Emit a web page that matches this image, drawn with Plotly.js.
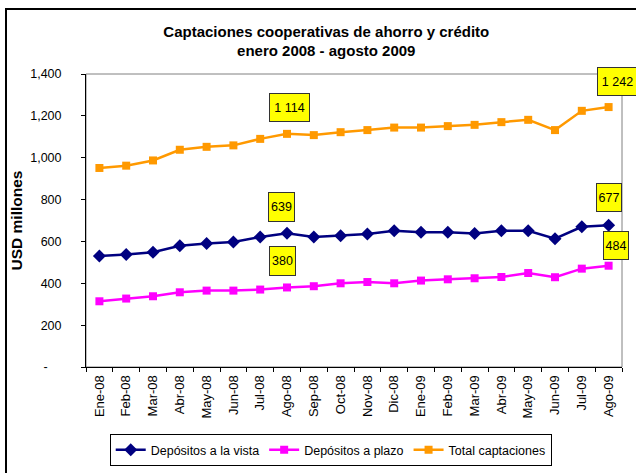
<!DOCTYPE html>
<html>
<head>
<meta charset="utf-8">
<script src="https://cdn.plot.ly/plotly-3.0.1.min.js"></script>
<style>
  html, body { margin: 0; padding: 0; background: #ffffff; }
  #chart { width: 636px; height: 473px; position: relative; }
  #frame { position: absolute; left: 5px; top: 8px; width: 700px; height: 600px;
           border-left: 2px solid #000; border-top: 2px solid #000; pointer-events: none; }
</style>
</head>
<body>
<div id="chart"></div>
<div id="frame"></div>
<script>
const months = ['Ene-08','Feb-08','Mar-08','Abr-08','May-08','Jun-08','Jul-08','Ago-08','Sep-08','Oct-08','Nov-08','Dic-08',
                'Ene-09','Feb-09','Mar-09','Abr-09','May-09','Jun-09','Jul-09','Ago-09'];
const depositosVista = [530, 537, 548, 579, 590, 597, 621, 639, 621, 627, 635, 651, 644, 644, 638, 651, 651, 613, 670, 677];
const depositosPlazo = [314, 327, 338, 357, 365, 365, 370, 380, 386, 400, 406, 400, 413, 419, 424, 430, 449, 429, 470, 484];
const totalCaptaciones = [951, 962, 987, 1038, 1052, 1059, 1090, 1114, 1108, 1122, 1132, 1144, 1144, 1151, 1157, 1170, 1181, 1132, 1224, 1242];
const yTickVals = [0, 200, 400, 600, 800, 1000, 1200, 1400];
const yTickText = ['-\u00a0\u00a0\u00a0\u00a0', '200', '400', '600', '800', '1,000', '1,200', '1,400'];
const labelNames = ['Depósitos a la vista', 'Depósitos a plazo', 'Total captaciones'];

const FONT = 'Liberation Sans, Arial, sans-serif';

const traces = [
  { x: months, y: depositosVista, name: labelNames[0], type: 'scatter', mode: 'lines+markers',
    line: { color: '#000080', width: 2.5 }, marker: { symbol: 'diamond', size: 10, color: '#000080' } },
  { x: months, y: depositosPlazo, name: labelNames[1], type: 'scatter', mode: 'lines+markers',
    line: { color: '#FF00FF', width: 2.5 }, marker: { symbol: 'square', size: 8, color: '#FF00FF' } },
  { x: months, y: totalCaptaciones, name: labelNames[2], type: 'scatter', mode: 'lines+markers',
    line: { color: '#FF9900', width: 2.5 }, marker: { symbol: 'square', size: 8, color: '#FF9900' } }
];

function label(series, idx, w, h, dx, dy) {
  const v = series[idx];
  const txt = v >= 1000 ? Math.floor(v / 1000) + ' ' + String(v % 1000).padStart(3, '0') : String(v);
  return { x: months[idx], y: v, xref: 'x', yref: 'y', text: txt, showarrow: false,
           xshift: dx, yshift: dy, bgcolor: '#FFFF00', bordercolor: '#333333', borderwidth: 1,
           borderpad: 1, width: w, height: h, font: { family: FONT, size: 12.5, color: '#000' } };
}

const annotations = [
  label(totalCaptaciones, 7, 37, 25, 2, 26),
  label(depositosVista, 7, 23, 26, -6, 26),
  label(depositosPlazo, 7, 23, 26, -5, 26),
  label(totalCaptaciones, 19, 37, 25, 9, 26),
  label(depositosVista, 19, 22, 25, 0, 28),
  label(depositosPlazo, 19, 22, 25, 7, 20)
];

const layout = {
  width: 636, height: 473,
  margin: { l: 86, r: 14, t: 74, b: 106 },
  paper_bgcolor: 'rgba(0,0,0,0)', plot_bgcolor: '#ffffff',
  font: { family: FONT, size: 12.5, color: '#000' },
  title: { text: '<b>Captaciones cooperativas de ahorro y crédito<br>enero 2008 - agosto 2009</b>',
           font: { family: FONT, size: 15, color: '#000' },
           x: 0.513, xref: 'container', xanchor: 'center', y: 0.922, yref: 'container', yanchor: 'top',
           automargin: false },
  xaxis: { type: 'category', range: [-0.5, 19.5], autorange: false, showgrid: false, zeroline: false,
           showline: true, linecolor: '#000', linewidth: 1,
           ticks: 'outside', ticklen: 4, tickcolor: '#000', tickson: 'boundaries', tickangle: -90,
           ticklabelstandoff: 2, tickfont: { family: FONT, size: 13 }, fixedrange: true, automargin: false },
  yaxis: { range: [0, 1400], tickvals: yTickVals, ticktext: yTickText, showgrid: false, zeroline: false,
           showline: true, linecolor: '#000', linewidth: 1, ticks: 'outside', ticklen: 4, tickcolor: '#000',
           ticklabelstandoff: 17, tickfont: { family: FONT, size: 12.5 }, automargin: false,
           title: { text: '<b>USD millones</b>', font: { family: FONT, size: 15.5 }, standoff: 3 } },
  showlegend: true,
  legend: { orientation: 'h', xref: 'container', yref: 'container', x: 0.52, xanchor: 'center',
            y: 0.082, yanchor: 'top',
            bordercolor: '#000', borderwidth: 1, bgcolor: '#fff', font: { family: FONT, size: 12.5 },
            itemwidth: 30, tracegroupgap: 0 },
  shapes: [
    { type: 'rect', xref: 'paper', yref: 'paper', x0: 0, x1: 1, y0: 0, y1: 1,
      line: { color: '#808080', width: 1 }, layer: 'below' }
  ],
  annotations: annotations
};

Plotly.newPlot('chart', traces, layout, { displayModeBar: false, staticPlot: true });
</script>
</body>
</html>
